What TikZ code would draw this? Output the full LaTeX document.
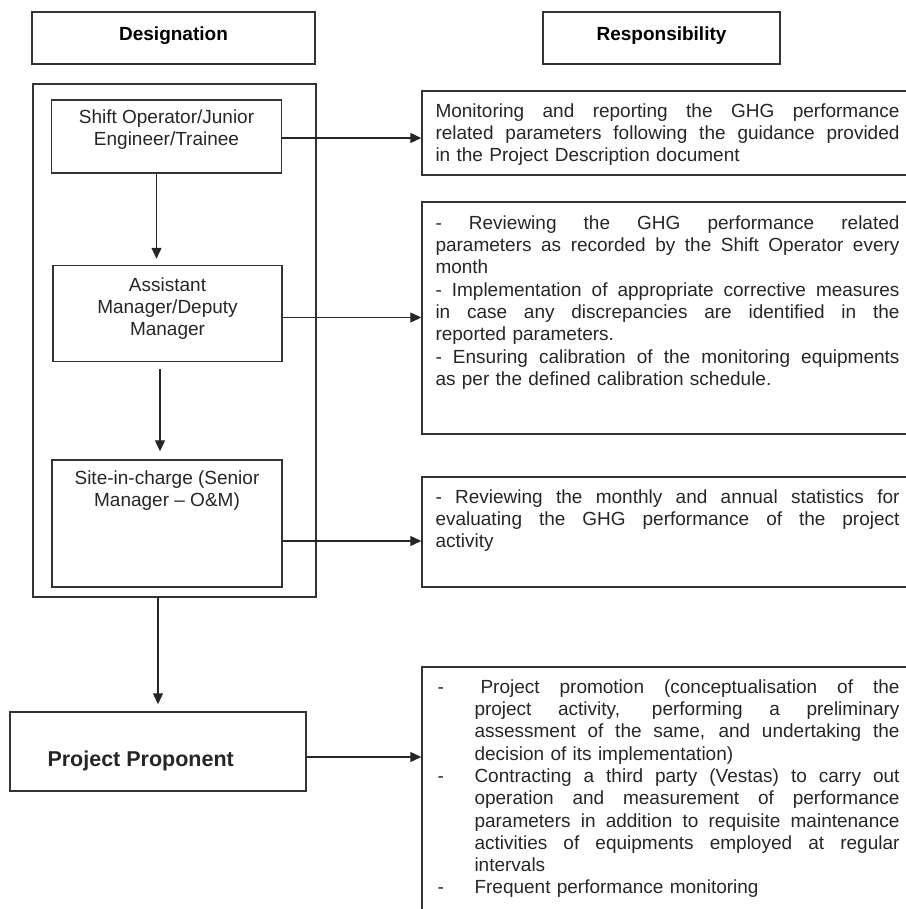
\documentclass[tikz,border=0pt]{standalone}
\usepackage{fontspec}
\setmainfont{Liberation Sans}
\usetikzlibrary{arrows.meta, positioning, calc}

\tikzset{
  box/.style={draw=black!80, line width=1.4pt, rectangle, inner sep=0pt},
  headbox/.style={box, minimum height=52pt, text height=14pt, text depth=9pt,
    font=\bfseries\fontsize{19}{22}\selectfont},
  lbl/.style={align=center, inner sep=0pt, anchor=north, text=black!85, font=\fontsize{19}{22}\selectfont},
  resptxt/.style={align=left, inner sep=0pt, anchor=north west, text width=464pt, text=black!85,
    font=\fontsize{19}{22.3}\selectfont},
  arr/.style={-{Triangle[length=11pt,width=10pt]}, line width=1.1pt, black!85},
}
% justified line, bullet line, continued line
\newcommand{\jl}[2][464pt]{\makebox[#1][s]{\spaceskip=.278em plus 1fil\xspaceskip=\spaceskip\relax#2}}
\newcommand{\bitem}[1]{\makebox[37pt][l]{-}\jl[425pt]{#1}}
\newcommand{\bcont}[1]{\hspace*{37pt}\jl[425pt]{#1}}
\newcommand{\blast}[1]{\hspace*{37pt}#1}

\begin{document}
\begin{tikzpicture}[x=1pt, y=-1pt]
  \useasboundingbox (0,0) rectangle (905,909);

  % Column headers
  \node[headbox, minimum width=283pt] (desig) at (173.5,38) {Designation};
  \node[headbox, minimum width=237pt] (respon) at (661.5,38) {Responsibility};

  % Designation side
  \node[box, minimum width=283pt, minimum height=513pt] (staff) at (174.5,340.5) {};
  \node[box, minimum width=230pt, minimum height=73pt] (shift) at (166.5,136.5) {};
  \node[box, minimum width=229pt, minimum height=96pt] (assist) at (167.5,313.5) {};
  \node[box, minimum width=230pt, minimum height=127pt] (site) at (167,523.5) {};
  \node[box, minimum width=296pt, minimum height=79pt] (prop) at (158,751.5) {};

  \node[lbl] (shifttxt) at ([yshift=-10pt]shift.north) {Shift Operator/Junior\\Engineer/Trainee};
  \node[lbl] (assisttxt) at ([yshift=-13pt]assist.north) {Assistant\\Manager/Deputy\\Manager};
  \node[lbl] (sitetxt) at ([yshift=-11pt]site.north) {Site-in-charge (Senior\\Manager -- O\&M)};
  \node[anchor=west, inner sep=0pt, text=black!85, font=\bfseries\fontsize{21.5}{24}\selectfont] (proptxt)
    at ([xshift=38pt, yshift=-9pt]prop.west) {Project Proponent};

  % Responsibility side
  \node[box, minimum width=486pt, minimum height=84pt] (r1) at (665,133) {};
  \node[box, minimum width=486pt, minimum height=232pt] (r2) at (665,318) {};
  \node[box, minimum width=486pt, minimum height=110pt] (r3) at (665,532) {};
  \node[box, minimum width=486pt, minimum height=250pt] (r4) at (665,792) {};

  \node[resptxt] (r1txt) at ([shift={(14pt,-13pt)}]r1.north west) {
    \jl{Monitoring and reporting the GHG performance}\\
    \jl{related parameters following the guidance provided}\\
    in the Project Description document};
  \node[resptxt] (r2txt) at ([shift={(14pt,-14pt)}]r2.north west) {
    \jl{- Reviewing the GHG performance related}\\
    \jl{parameters as recorded by the Shift Operator every}\\
    month\\
    \jl{- Implementation of appropriate corrective measures}\\
    \jl{in case any discrepancies are identified in the}\\
    reported parameters.\\
    \jl{- Ensuring calibration of the monitoring equipments}\\
    as per the defined calibration schedule.};
  \node[resptxt] (r3txt) at ([shift={(14pt,-13pt)}]r3.north west) {
    \jl{- Reviewing the monthly and annual statistics for}\\
    \jl{evaluating the GHG performance of the project}\\
    activity};
  \node[resptxt] (r4txt) at ([shift={(16pt,-13pt)}]r4.north west) {
    \bitem{\hspace*{6pt}Project promotion (conceptualisation of the}\\
    \bcont{project activity, performing a preliminary}\\
    \bcont{assessment of the same, and undertaking the}\\
    \blast{decision of its implementation)}\\
    \bitem{Contracting a third party (Vestas) to carry out}\\
    \bcont{operation and measurement of performance}\\
    \bcont{parameters in addition to requisite maintenance}\\
    \bcont{activities of equipments employed at regular}\\
    \blast{intervals}\\
    \makebox[37pt][l]{-}Frequent performance monitoring};

  % Connectors
  \draw[arr] ([xshift=-10pt]shift.south) -- ([xshift=-11pt, yshift=6pt]assist.north);
  \draw[arr] ([xshift=-7.5pt, yshift=-7pt]assist.south) -- ([xshift=-7pt, yshift=8pt]site.north);
  \draw[arr] ([xshift=-16.5pt]staff.south) -- ([yshift=7pt]prop.north);

  \coordinate (a1) at ([yshift=-1.5pt]shift.east);
  \coordinate (a2) at ([yshift=-4pt]assist.east);
  \coordinate (a3) at ([yshift=-17.5pt]site.east);
  \coordinate (a4) at ([yshift=-5.5pt]prop.east);
  \draw[arr] (a1) -- (a1 -| r1.west);
  \draw[arr] (a2) -- (a2 -| r2.west);
  \draw[arr] (a3) -- (a3 -| r3.west);
  \draw[arr] (a4) -- (a4 -| r4.west);
\end{tikzpicture}
\end{document}
